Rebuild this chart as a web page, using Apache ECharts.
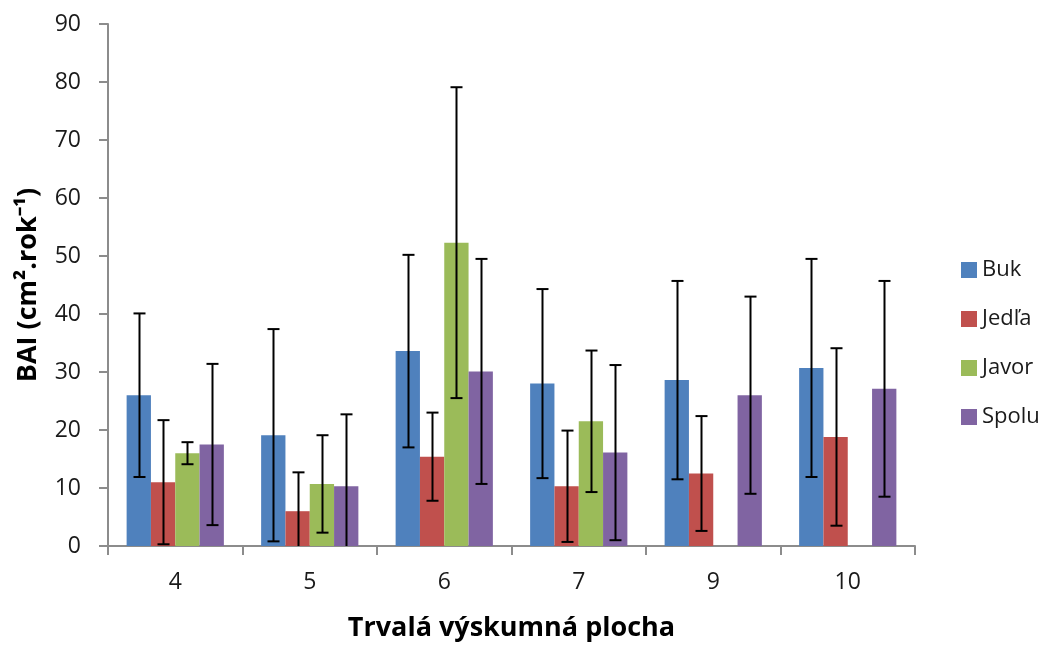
<!DOCTYPE html>
<html>
<head>
<meta charset="utf-8">
<script src="https://cdn.jsdelivr.net/npm/echarts@6/dist/echarts.min.js"></script>
<style>
  html, body { margin: 0; padding: 0; background: #ffffff; }
  #chart { width: 1044px; height: 647px; }
</style>
</head>
<body>
<div id="chart"></div>
<script>
// Research plots (categories)
const plots = ['4', '5', '6', '7', '9', '10'];

// Mean BAI per species and its standard deviation
const buk     = [26.0, 19.1, 33.6, 28.0, 28.6, 30.7];
const bukSd   = [14.1, 18.3, 16.6, 16.3, 17.1, 18.8];
const jedla   = [11.0, 6.0, 15.4, 10.3, 12.5, 18.8];
const jedlaSd = [10.7, 6.7, 7.6, 9.6, 9.9, 15.3];
const javor   = [16.0, 10.7, 52.3, 21.5, null, null];
const javorSd = [1.9, 8.4, 26.8, 12.2, null, null];
const spolu   = [17.5, 10.3, 30.1, 16.1, 26.0, 27.1];
const spoluSd = [13.9, 12.4, 19.4, 15.1, 17.0, 18.6];

const seriesNames = ['Buk', 'Jedľa', 'Javor', 'Spolu'];
const colors = ['#4F81BD', '#C0504D', '#9BBB59', '#8064A2'];
const yTicks = { min: 0, max: 90, interval: 10 };

const means = [buk, jedla, javor, spolu];
const sds = [bukSd, jedlaSd, javorSd, spoluSd];

const FONT = 'Open Sans';
const CAT_GAP = 0.277;

// Error-bar points: [category index, mean, sd, series index]
const errData = [];
means.forEach((arr, s) => {
  arr.forEach((v, i) => {
    if (v != null && sds[s][i] != null) errData.push([i, v, sds[s][i], s]);
  });
});

function renderError(params, api) {
  const cat = api.value(0);
  const mean = api.value(1);
  const sd = api.value(2);
  const s = api.value(3);
  const band = api.size([1, 0])[0];
  const bw = band * (1 - CAT_GAP) / means.length;
  const center = api.coord([cat, mean]);
  const x = Math.round(center[0] - bw * means.length / 2 + (s + 0.5) * bw) + 0.5;
  const lowVal = mean - sd;
  const hi = api.coord([cat, mean + sd])[1];
  const lo = api.coord([cat, Math.max(0, lowVal)])[1];
  const cap = 6;
  const style = { stroke: '#000000', lineWidth: 2 };
  const children = [
    { type: 'line', shape: { x1: x, y1: hi, x2: x, y2: lo }, style: style },
    { type: 'line', shape: { x1: x - cap, y1: hi, x2: x + cap, y2: hi }, style: style }
  ];
  if (lowVal > 0) {
    children.push({ type: 'line', shape: { x1: x - cap, y1: lo, x2: x + cap, y2: lo }, style: style });
  }
  return { type: 'group', children: children };
}

const chart = echarts.init(document.getElementById('chart'), null, { renderer: 'canvas' });

const axisGrey = '#8c8c8c';

chart.setOption({
  animation: false,
  backgroundColor: '#ffffff',
  textStyle: { fontFamily: FONT },
  grid: { left: 108, right: 129, top: 24, bottom: 99 },
  legend: {
    orient: 'vertical',
    left: 956,
    top: 253,
    itemWidth: 16,
    itemHeight: 16,
    itemGap: 25,
    icon: 'rect',
    data: seriesNames,
    textStyle: { fontFamily: FONT, fontSize: 22, color: '#1a1a1a', lineHeight: 24, padding: [0, 0, 0, 0] }
  },
  xAxis: {
    type: 'category',
    data: plots,
    name: 'Trvalá výskumná plocha',
    nameLocation: 'middle',
    nameGap: 69,
    nameTextStyle: { fontFamily: FONT, fontSize: 27, fontWeight: 'bold', color: '#000000' },
    axisLine: { lineStyle: { color: axisGrey, width: 2 } },
    axisTick: { show: true, length: 9, lineStyle: { color: axisGrey, width: 2 } },
    axisLabel: { fontFamily: FONT, fontSize: 23, color: '#1a1a1a', margin: 25 },
    splitLine: { show: false }
  },
  yAxis: {
    type: 'value',
    min: yTicks.min,
    max: yTicks.max,
    interval: yTicks.interval,
    name: 'BAI (cm².rok⁻¹)',
    nameLocation: 'middle',
    nameGap: 66,
    nameTextStyle: { fontFamily: FONT, fontSize: 27, fontWeight: 'bold', color: '#000000' },
    axisLine: { show: true, lineStyle: { color: axisGrey, width: 2 } },
    axisTick: { show: true, length: 9, lineStyle: { color: axisGrey, width: 2 } },
    axisLabel: { fontFamily: FONT, fontSize: 23, color: '#1a1a1a', margin: 27 },
    splitLine: { show: false }
  },
  series: means.map((arr, s) => ({
    name: seriesNames[s],
    type: 'bar',
    data: arr.map(v => (v == null ? '-' : v)),
    barGap: '0%',
    barCategoryGap: (CAT_GAP * 100) + '%',
    itemStyle: { color: colors[s] },
    emphasis: { disabled: true }
  })).concat([{
    type: 'custom',
    name: 'sd',
    data: errData,
    renderItem: renderError,
    z: 10,
    silent: true,
    encode: { x: 0, y: 1 }
  }])
});
</script>
</body>
</html>
